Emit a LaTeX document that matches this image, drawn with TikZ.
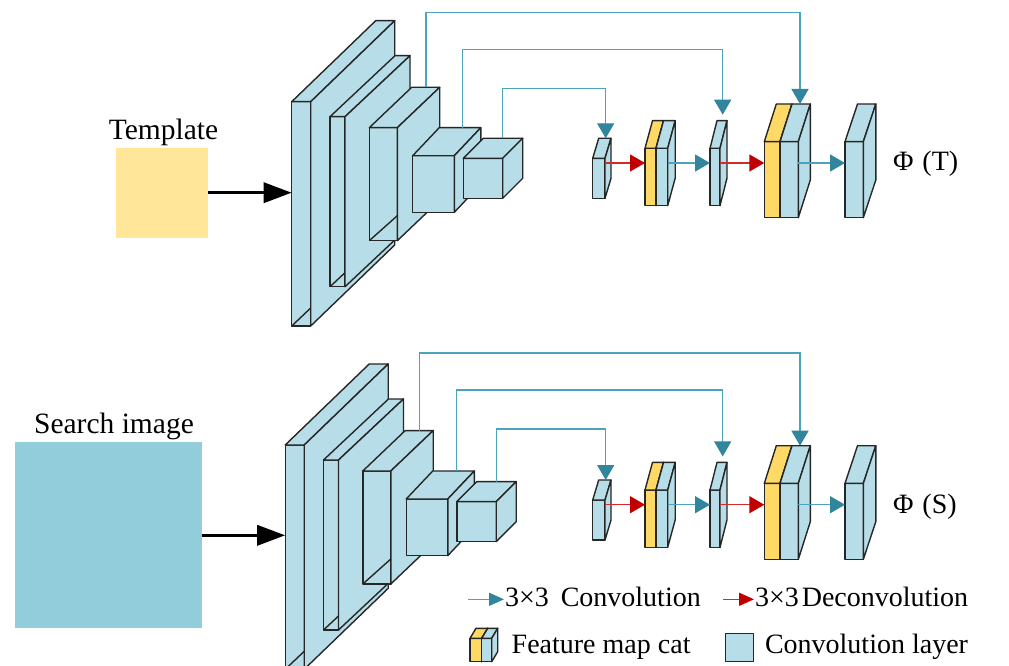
\documentclass[tikz,border=0pt]{standalone}
\usepackage{fontspec}
\setmainfont{Liberation Serif}
\usetikzlibrary{arrows.meta,calc}
\definecolor{cb}{HTML}{B7DEE8}
\definecolor{cy}{HTML}{FFD966}
\definecolor{tmplc}{HTML}{FFE699}
\definecolor{srchc}{HTML}{92CDDC}
\definecolor{tealh}{HTML}{31859C}
\definecolor{teall}{HTML}{4BA3BC}
\definecolor{redh}{HTML}{C00000}
\definecolor{redl}{HTML}{D42A2A}
\definecolor{edgec}{HTML}{262626}
\tikzset{
 face/.style={draw=edgec, line width=1.4pt, rectangle, inner sep=0pt, outer sep=0pt, line join=round},
 edge/.style={draw=edgec, line width=1.4pt, line join=round},
 conv/.style={draw=teall, line width=1.4pt, -{Triangle[length=15pt,width=17pt,color=tealh]}},
 deconv/.style={draw=redl, line width=1.4pt, -{Triangle[length=15pt,width=17pt,color=redh]}},
 legconv/.style={draw=teall, line width=1.4pt, -{Triangle[length=15pt,width=13pt,color=tealh]}},
 legdeconv/.style={draw=redl, line width=1.4pt, -{Triangle[length=15pt,width=13pt,color=redh]}},
 skip/.style={conv},
 inarrow/.style={draw=black, line width=3.5pt, -{Triangle[length=28pt,width=20pt]}},
 lbl/.style={inner sep=0pt, outer sep=0pt, font=\fontsize{28}{32}\selectfont},
 biglbl/.style={inner sep=0pt, outer sep=0pt, font=\fontsize{29.5}{34}\selectfont},
}
\newcommand\tzblk[8]{%
 \node[face, fill=#8, minimum width={(#4-#2)*1pt}, minimum height={(#5-#3)*1pt}] (#1) at ({(#2+#4)/2},{(#3+#5)/2}) {};
 \filldraw[edge, fill=#8] (#1.north west) -- ++(#6,#7) -- ([shift={(#6,#7)}]#1.north east) -- (#1.north east) -- cycle;
 \filldraw[edge, fill=#8] (#1.north east) -- ++(#6,#7) -- ([shift={(#6,#7)}]#1.south east) -- (#1.south east) -- cycle;
}
\newcommand\tzbranch[7]{%
 \begin{scope}[shift={(#2,#3)}]
  \tzblk{#1s1}{291.7}{101.7}{310.7}{326}{84}{-81}{cb}
  \draw[edge] (#1s1.south west) -- ++(19,-18);
  \tzblk{#1s2}{330}{116.7}{345}{286.7}{65}{-61}{cb}
  \draw[edge] (#1s2.south west) -- ++(15,-14);
  \tzblk{#1s3}{369.3}{127.7}{397.3}{240.7}{42.4}{-40.4}{cb}
  \draw[edge] (#1s3.south west) -- ++(28,-25);
  \tzblk{#1s4}{412.7}{155.7}{454.3}{212.3}{26.5}{-28}{cb}
  \tzblk{#1s5}{463.3}{158.3}{502.7}{198.3}{20}{-20}{cb}
 \end{scope}
 \begin{scope}[shift={(0,#4)}]
  \tzblk{#1a}{592.7}{158.3}{605}{198.3}{6}{-20}{cb}
  \tzblk{#1b1}{645}{148.3}{656}{205.7}{7.5}{-27.6}{cy}
  \tzblk{#1b2}{656}{148.3}{667.7}{205.7}{7.5}{-27.6}{cb}
  \tzblk{#1c}{710}{148.3}{720}{205.7}{7}{-27.6}{cb}
  \tzblk{#1d1}{764.3}{141.7}{780}{217.7}{12}{-37.7}{cy}
  \tzblk{#1d2}{780}{141.7}{798.3}{217.7}{12}{-37.7}{cb}
  \tzblk{#1e}{845}{141.7}{863.3}{217.7}{12.5}{-37.7}{cb}
  \coordinate (#1r) at (0,163);
  \node[lbl, anchor=base west] (#1phi) at (893,#7) {Φ\hspace{9pt}(#6)};
 \end{scope}
 \coordinate (#1tA) at ([shift={(13,-20)}]#1a.north west);
 \coordinate (#1tC) at ([shift={(12.7,-27.6)}]#1c.north west);
 \coordinate (#1tD) at ([shift={(20,-37.7)}]#1d2.north west);
 \begin{scope}[shift={(0,#5)}]
  \coordinate (#1L1) at (0,12.3);
  \coordinate (#1L2) at (0,49.3);
  \coordinate (#1L3) at (0,88.3);
 \end{scope}
 \draw[deconv] (#1a.east |- #1r) -- (#1b1.west |- #1r);
 \draw[conv] (#1b2.east |- #1r) -- (#1c.west |- #1r);
 \draw[deconv] (#1c.east |- #1r) -- (#1d1.west |- #1r);
 \draw[conv] (#1d2.east |- #1r) -- (#1e.west |- #1r);
 \draw[skip] ([shift={(56.7,-40.4)}]#1s3.north west) |- (#1tD |- #1L1) -- (#1tD);
 \draw[skip, shorten >=6pt] ([shift={(50,-28)}]#1s4.north west) |- (#1tC |- #1L2) -- (#1tC);
 \draw[skip] ([shift={(39.4,-20)}]#1s5.north west) |- (#1tA |- #1L3) -- (#1tA);
}
\begin{document}
\begin{tikzpicture}[x=1pt,y=-1pt]
\useasboundingbox (0,0) rectangle (1009,666);
\fill[white] (0,0) rectangle (1009,666);
% inputs
\node[rectangle, fill=tmplc, inner sep=0pt, minimum width=92pt, minimum height=90pt] (tmpl) at (161.7,192.7) {};
\node[biglbl, anchor=base] (tmpllbl) at (163.5,139.3) {Template};
\node[rectangle, fill=srchc, inner sep=0pt, minimum width=186.7pt, minimum height=186pt] (srch) at (108.3,535.3) {};
\node[biglbl, anchor=base] (srchlbl) at (114,433.3) {Search image};
% branches
\tzbranch{t}{0}{0}{0}{0}{T}{170}
\tzbranch{b}{-6.5}{343.3}{341.7}{340.7}{S}{171.6}
\draw[inarrow] (tmpl.east) -- (ts1.west |- tmpl.east);
\draw[inarrow] (srch.east) -- (bs1.west |- srch.east);
% legend
\coordinate (lg1a) at (468.3,599.3);
\coordinate (lg1b) at (504,599.3);
\draw[legconv] (lg1a) -- (lg1b);
\node[lbl, anchor=base west] (lgt1) at (505,606) {3×3\hspace{12pt}Convolution};
\coordinate (lg2a) at (723.3,599.3);
\coordinate (lg2b) at (754,599.3);
\draw[legdeconv] (lg2a) -- (lg2b);
\node[lbl, anchor=base west] (lgt2) at (755,606) {3×3\hspace{3pt}Deconvolution};
\tzblk{lgy}{470}{638.3}{481.7}{661.7}{6}{-10}{cy}
\tzblk{lgb}{481.7}{638.3}{491.7}{661.7}{6}{-10}{cb}
\node[lbl, anchor=base west] (lgt3) at (511.7,653.3) {Feature map cat};
\node[face, fill=cb, minimum width=27.6pt, minimum height=28.4pt] (lgsq) at (739.5,647.5) {};
\node[lbl, anchor=base west] (lgt4) at (765,653.3) {Convolution layer};
\end{tikzpicture}
\end{document}
